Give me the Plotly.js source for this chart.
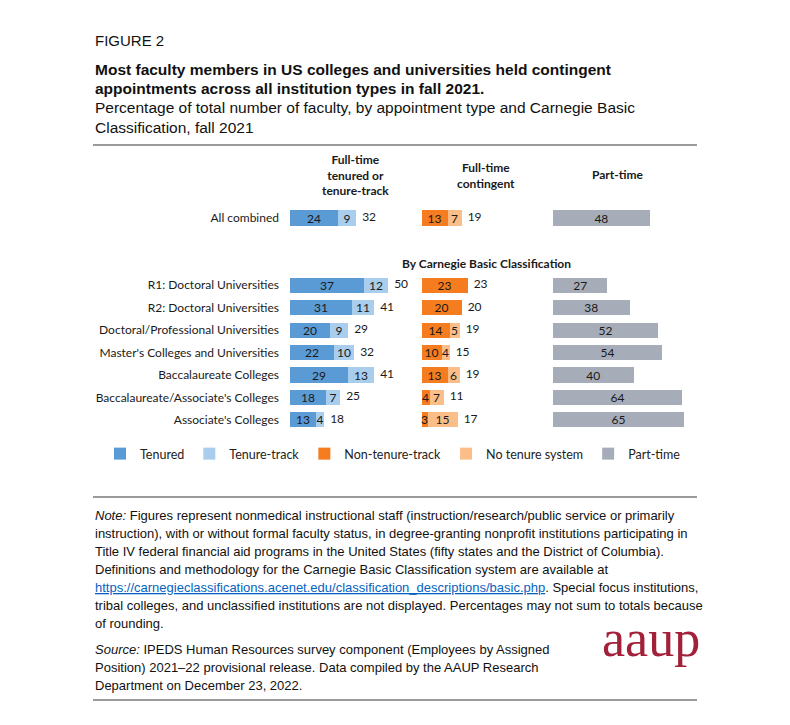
<!DOCTYPE html>
<html><head><meta charset="utf-8">
<script src="https://cdn.plot.ly/plotly-3.0.1.min.js"></script>
<style>html,body{margin:0;padding:0;background:#fff}</style>
</head><body><div id="chart" style="width:790px;height:725px"></div>
<script>
// ---- data ----
const categories = ["All combined", "R1: Doctoral Universities", "R2: Doctoral Universities",
  "Doctoral/Professional Universities", "Master's Colleges and Universities",
  "Baccalaureate Colleges", "Baccalaureate/Associate's Colleges", "Associate's Colleges"];
const tenured        = [24, 37, 31, 20, 22, 29, 18, 13];
const tenureTrack    = [9, 12, 11, 9, 10, 13, 7, 4];
const fullTimeTTTotal = [32, 50, 41, 29, 32, 41, 25, 18];
const nonTenureTrack = [13, 23, 20, 14, 10, 13, 4, 3];
const noTenureSystem = [7, 0, 0, 5, 4, 6, 7, 15];
const contingentTotal = [19, 23, 20, 19, 15, 19, 11, 17];
const partTime       = [48, 27, 38, 52, 54, 40, 64, 65];
const seriesNames = ["Tenured", "Tenure-track", "Non-tenure-track", "No tenure system", "Part-time"];
const groupHeaders = ["Full-time<br>tenured or<br>tenure-track", "Full-time<br>contingent", "Part-time"];

// ---- helpers ----
const W = 790, H = 725;
const px = v => v / W;
const py = v => 1 - v / H;
const colors = ["#5B9BD5", "#A9CDEC", "#F57C1F", "#FBBE88", "#A6ADB9"];
const labelFont = {family: "Lato, 'Open Sans', sans-serif", size: 12, color: "#1a1a1a"};
const bodyFont = "'Liberation Sans', Arial, sans-serif";
const spacerCats = [" ", "  "];
const catOrder = [categories[0], spacerCats[0], spacerCats[1]].concat(categories.slice(1));
const txt = arr => arr.map(v => v > 0 ? String(v) : "");

function barTrace(name, vals, color, xa) {
  return {type: "bar", orientation: "h", name: name, y: categories, x: vals,
    xaxis: xa, yaxis: "y", marker: {color: color, line: {width: 0}},
    text: txt(vals), textposition: "inside", insidetextanchor: "middle", textangle: 0,
    textfont: labelFont, width: 0.68, hoverinfo: "skip", cliponaxis: false};
}
function totalTrace(a, b, labels, xa) {
  return {type: "scatter", mode: "text", showlegend: false, xaxis: xa, yaxis: "y",
    y: categories, x: a.map((v, i) => v + b[i]), text: labels.map(v => "\u00a0\u00a0" + v),
    textposition: "middle right", textfont: labelFont, cliponaxis: false, hoverinfo: "skip"};
}

const traces = [
  barTrace(seriesNames[0], tenured, colors[0], "x"),
  barTrace(seriesNames[1], tenureTrack, colors[1], "x"),
  barTrace(seriesNames[2], nonTenureTrack, colors[2], "x2"),
  barTrace(seriesNames[3], noTenureSystem, colors[3], "x2"),
  barTrace(seriesNames[4], partTime, colors[4], "x3"),
  totalTrace(tenured, tenureTrack, fullTimeTTTotal, "x"),
  totalTrace(nonTenureTrack, noTenureSystem, contingentTotal, "x2")
];

const rowTop = 218 - 22.43 * 0.5, rowBot = 218 + 22.43 * 9.5;
const xCommon = {range: [0, 65], visible: false, fixedrange: true, anchor: "y"};

const annotations = [];
function addText(text, x, y, font, opts) {
  annotations.push(Object.assign({text: text, xref: "paper", yref: "paper", x: px(x), y: py(y),
    xanchor: "left", yanchor: "middle", showarrow: false, font: font}, opts || {}));
}
const hdrFont = {family: "Lato, sans-serif", size: 12, color: "#1a1a1a"};
addText("FIGURE 2", 93, 40, {family: bodyFont, size: 15, color: "#111"});
addText("<b>Most faculty members in US colleges and universities held contingent</b>", 93, 70, {family: bodyFont, size: 15.5, color: "#111"});
addText("<b>appointments across all institution types in fall 2021.</b>", 93, 89, {family: bodyFont, size: 15.5, color: "#111"});
addText("Percentage of total number of faculty, by appointment type and Carnegie Basic", 93, 108, {family: bodyFont, size: 15.5, color: "#111"});
addText("Classification, fall 2021", 93, 127, {family: bodyFont, size: 15.5, color: "#111"});
addText("<b>" + groupHeaders[0] + "</b>", 355, 175, hdrFont, {xanchor: "center"});
addText("<b>" + groupHeaders[1] + "</b>", 486.5, 175.5, hdrFont, {xanchor: "center"});
addText("<b>" + groupHeaders[2] + "</b>", 618, 174, hdrFont, {xanchor: "center"});
addText("<b>By Carnegie Basic Classification</b>", 487, 263, hdrFont, {xanchor: "center"});

const noteLines = [
  "<i>Note:</i> Figures represent nonmedical instructional staff (instruction/research/public service or primarily",
  "instruction), with or without formal faculty status, in degree-granting nonprofit institutions participating in",
  "Title IV federal financial aid programs in the United States (fifty states and the District of Columbia).",
  "Definitions and methodology for the Carnegie Basic Classification system are available at",
  "<span style=\"color:#0563C1\"><u>https://carnegieclassifications.acenet.edu/classification_descriptions/basic.php</u></span>. Special focus institutions,",
  "tribal colleges, and unclassified institutions are not displayed. Percentages may not sum to totals because",
  "of rounding."
];
const sourceLines = [
  "<i>Source:</i> IPEDS Human Resources survey component (Employees by Assigned",
  "Position) 2021–22 provisional release. Data compiled by the AAUP Research",
  "Department on December 23, 2022."
];
const noteFont = {family: bodyFont, size: 13, color: "#111"};
noteLines.forEach((l, i) => addText(l, 93, 515 + 18 * i, noteFont));
sourceLines.forEach((l, i) => addText(l, 93, 649 + 18 * i, noteFont));
addText("aaup", 651, 638, {family: "'Liberation Serif', 'DejaVu Serif', serif", size: 52, color: "#A3203A"}, {xanchor: "center"});

const rule = y => ({type: "line", xref: "paper", yref: "paper", x0: px(93), x1: px(697), y0: py(y), y1: py(y),
  line: {color: "#9a9a9a", width: 2}});

const layout = {
  width: W, height: H, margin: {l: 0, r: 0, t: 0, b: 0},
  paper_bgcolor: "#fff", plot_bgcolor: "rgba(0,0,0,0)",
  barmode: "stack", showlegend: true,
  uniformtext: {mode: "show", minsize: 12},
  xaxis: Object.assign({domain: [px(290), px(420)]}, xCommon),
  xaxis2: Object.assign({domain: [px(421.5), px(551.5)]}, xCommon),
  xaxis3: Object.assign({domain: [px(553), px(684)]}, xCommon),
  yaxis: {type: "category", categoryorder: "array", categoryarray: catOrder,
    range: [9.5, -0.5], domain: [py(rowBot), py(rowTop)], anchor: "x",
    showgrid: false, zeroline: false, showline: false, ticks: "", ticklabelstandoff: 10,
    tickfont: labelFont, fixedrange: true},
  legend: {orientation: "h", x: px(100), y: py(454), xanchor: "left", yanchor: "middle",
    font: {family: "Lato, sans-serif", size: 12.5, color: "#222"}, traceorder: "normal",
    itemwidth: 30, bgcolor: "rgba(0,0,0,0)"},
  annotations: annotations,
  shapes: [rule(145), rule(497), rule(700)]
};

Plotly.newPlot("chart", traces, layout, {displayModeBar: false, staticPlot: true});
</script></body></html>
